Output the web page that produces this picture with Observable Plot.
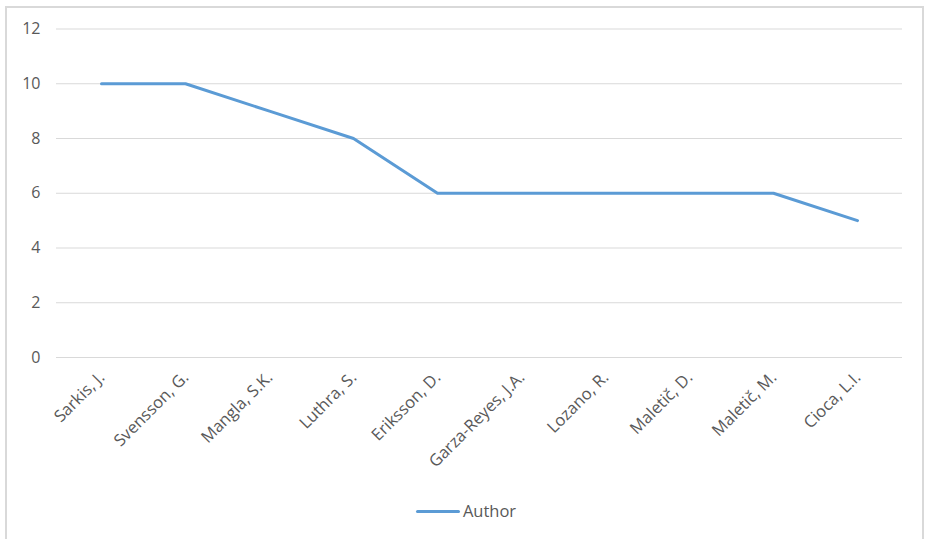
<!DOCTYPE html>
<html>
<head>
<meta charset="utf-8">
<script src="https://cdn.jsdelivr.net/npm/d3@7"></script>
<script src="https://cdn.jsdelivr.net/npm/@observablehq/plot@0.6"></script>
<style>
  html, body { margin: 0; padding: 0; background: #fff; }
  body { width: 926px; height: 539px; overflow: hidden; position: relative; font-family: "Open Sans", sans-serif; }
  #frame { position: absolute; left: 5px; top: 6px; width: 919px; height: 560px; border: 2px solid #d9d9d9; box-sizing: border-box; }
  #chart { position: absolute; left: 0; top: 0; }
  #legend { position: absolute; left: 0; top: 499px; width: 926px; display: flex; justify-content: center; align-items: center; color: #595959; font-size: 16.5px; line-height: 24px; }
  #legend .sw { width: 44px; height: 3px; background: #5b9bd5; border-radius: 2px; margin-right: 3px; margin-left: 6px; }
</style>
</head>
<body>
<div id="frame"></div>
<div id="chart"></div>
<div id="legend"><span class="sw"></span><span>Author</span></div>
<script>
const authors = ["Sarkis, J.", "Svensson, G.", "Mangla, S.K.", "Luthra, S.", "Eriksson, D.", "Garza-Reyes, J.A.", "Lozano, R.", "Maletič, D.", "Maletič, M.", "Cioca, L.I."];
const counts = [10, 10, 9, 8, 6, 6, 6, 6, 6, 5];
const yTicks = [0, 2, 4, 6, 8, 10, 12];

const data = authors.map((a, i) => ({author: a, count: counts[i]}));

const chart = Plot.plot({
  width: 926,
  height: 490,
  marginLeft: 56,
  marginRight: 24,
  marginTop: 28.5,
  marginBottom: 133,
  style: {fontFamily: "'Open Sans', sans-serif", color: "#595959", background: "transparent"},
  x: {type: "point", domain: authors, padding: 0.5, label: null, axis: null},
  y: {domain: [0, 12], ticks: yTicks, label: null, axis: null},
  marks: [
    Plot.gridY(yTicks, {stroke: "#d9d9d9", strokeOpacity: 1, strokeWidth: 1}),
    Plot.axisY(yTicks, {tickSize: 0, tickPadding: 16, fontSize: 16, fill: "#595959", label: null}),
    Plot.text(authors, {x: d => d, frameAnchor: "bottom", rotate: -45, textAnchor: "end", lineAnchor: "bottom", dx: 4, dy: 21, fontSize: 16.5, fill: "#595959"}),
    Plot.line(data, {x: "author", y: "count", stroke: "#5b9bd5", strokeWidth: 3, strokeLinecap: "round", strokeLinejoin: "round"})
  ]
});
document.getElementById("chart").appendChild(chart);
</script>
</body>
</html>
